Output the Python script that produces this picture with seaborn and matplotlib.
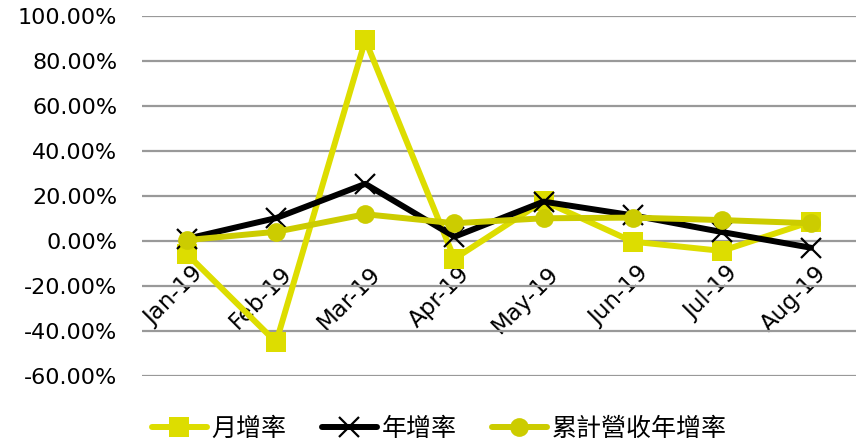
import matplotlib
matplotlib.use("Agg")
import matplotlib.pyplot as plt
import matplotlib.transforms as mtransforms
import seaborn as sns
import pandas as pd
from matplotlib.ticker import FuncFormatter

months = ["Jan-19", "Feb-19", "Mar-19", "Apr-19", "May-19", "Jun-19", "Jul-19", "Aug-19"]
monthly_growth = [-5.8, -45.0, 89.3, -7.9, 17.8, -0.3, -4.4, 8.6]
yearly_growth = [1.0, 10.2, 25.4, 1.9, 17.5, 11.4, 4.0, -3.0]
cumulative_growth = [0.4, 4.1, 11.9, 7.9, 10.1, 10.4, 9.3, 7.9]

series_names = ["月增率", "年增率", "累計營收年增率"]

sns.set_theme(style="white")
plt.rcParams["font.family"] = ["DejaVu Sans"]
plt.rcParams["text.color"] = "black"
plt.rcParams["xtick.color"] = "black"
plt.rcParams["ytick.color"] = "black"

fig = plt.figure(figsize=(8.58, 4.43), dpi=100)
ax = fig.add_axes([0.166, 0.1512, 0.8312, 0.8127])

pos = list(range(len(months)))
df = pd.DataFrame({"pos": pos, "m": monthly_growth, "y": yearly_growth, "c": cumulative_growth})

sns.lineplot(data=df, x="pos", y="m", ax=ax, color="#DDDD00", lw=4.3,
             marker="s", markersize=14, markeredgewidth=0, label=series_names[0], zorder=3)
sns.lineplot(data=df, x="pos", y="y", ax=ax, color="black", lw=4.3,
             marker="x", markersize=14, markeredgewidth=1.6, markeredgecolor="black",
             label=series_names[1], zorder=4)
sns.lineplot(data=df, x="pos", y="c", ax=ax, color="#CCCC00", lw=4.3,
             marker="o", markersize=13.5, markeredgewidth=0, label=series_names[2], zorder=5)

ax.set_xlim(-0.5, len(months) - 0.5)
ax.set_ylim(-60, 100)
ax.set_yticks(range(-60, 101, 20))
ax.yaxis.set_major_formatter(FuncFormatter(lambda v, _: f"{v:.2f}%"))
ax.grid(axis="y", color="#999999", lw=1.6)
ax.grid(axis="x", visible=False)
ax.set_axisbelow(True)
ax.set_xlabel("")
ax.set_ylabel("")
for s in ax.spines.values():
    s.set_visible(False)

# category labels sit on the zero line, rotated
ax.spines["bottom"].set_position(("data", 0))
ax.set_xticks(pos)
ax.set_xticklabels(months, rotation=45, ha="right", rotation_mode="anchor")
ax.tick_params(axis="x", length=0, pad=15, labelsize=16.5, labelcolor="black")
ax.tick_params(axis="y", length=0, pad=18, labelsize=16, labelcolor="black")
shift = mtransforms.ScaledTranslation(0.04, 0, fig.dpi_scale_trans)
for lbl in ax.get_xticklabels():
    lbl.set_transform(lbl.get_transform() + shift)

ax.get_legend().remove()
handles, labels = ax.get_legend_handles_labels()
fig.legend(handles, labels, loc="center", bbox_to_anchor=(0.512, 0.032), ncol=3,
           frameon=False, handlelength=2.2, columnspacing=1.4, handletextpad=0.2,
           prop={"family": ["Noto Sans CJK TC", "DejaVu Sans"], "size": 18})

fig.savefig("out.png", dpi=100)
